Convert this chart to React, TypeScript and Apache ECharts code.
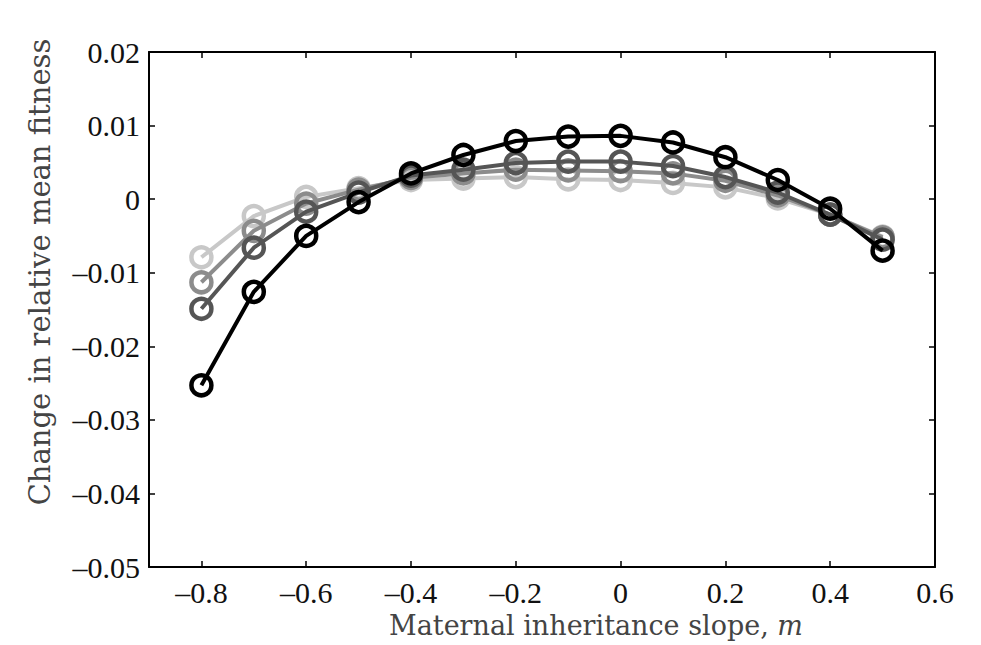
import React, { useEffect, useRef } from "react";
import * as echarts from "echarts";

const mValues = [-0.8, -0.7, -0.6, -0.5, -0.4, -0.3, -0.2, -0.1, 0, 0.1, 0.2, 0.3, 0.4, 0.5];
const lightSeries = [-0.0079, -0.0023, 0.0003, 0.0015, 0.0026, 0.0028, 0.003, 0.0027, 0.0026, 0.0022, 0.0016, 0.0001, -0.0021, -0.0051];
const midSeries = [-0.0113, -0.0043, -0.0006, 0.0013, 0.0029, 0.0035, 0.004, 0.0039, 0.0038, 0.0035, 0.0025, 0.0005, -0.0021, -0.0052];
const darkSeries = [-0.0149, -0.0066, -0.0017, 0.0009, 0.0032, 0.004, 0.0049, 0.0051, 0.0051, 0.0045, 0.003, 0.0009, -0.0021, -0.0055];
const blackSeries = [-0.0253, -0.0126, -0.005, -0.0004, 0.0035, 0.006, 0.0079, 0.0085, 0.0086, 0.0077, 0.0057, 0.0026, -0.0013, -0.007];
const seriesColors = ["#c8c8c8", "#8c8c8c", "#555555", "#000000"];
const xTicks = [-0.8, -0.6, -0.4, -0.2, 0, 0.2, 0.4, 0.6];
const yTicks = [-0.05, -0.04, -0.03, -0.02, -0.01, 0, 0.01, 0.02];
const xTitle = "Maternal inheritance slope, ";
const xTitleVar = "m";
const yTitle = "Change in relative mean fitness";

const fmt = (v: number) => {
  const r = Math.round(v * 1000) / 1000;
  if (r === 0) return "0";
  const s = Math.abs(r).toString();
  return r < 0 ? "\u2013" + s : s;
};

export default function App() {
  const ref = useRef<HTMLDivElement>(null);
  useEffect(() => {
    if (!ref.current) return;
    const chart = echarts.init(ref.current, null, { renderer: "svg" });
    const font = "Liberation Serif";
    const axisLine = { show: true, onZero: false, lineStyle: { color: "#000", width: 2 } };
    const tick = { show: true, inside: true, length: 6, lineStyle: { color: "#000", width: 1.5 } };
    const allData = [lightSeries, midSeries, darkSeries, blackSeries];
    chart.setOption({
      animation: false,
      backgroundColor: "#fff",
      grid: { left: 149, right: 46, top: 52, bottom: 78, containLabel: false },
      xAxis: [
        {
          type: "value",
          min: -0.9,
          max: 0.6,
          position: "bottom",
          axisLine,
          splitLine: { show: false },
          axisTick: { ...tick, customValues: xTicks },
          axisLabel: { customValues: xTicks, formatter: fmt, fontFamily: font, fontSize: 30, color: "#111", margin: 10 },
        },
        {
          type: "value",
          min: -0.9,
          max: 0.6,
          position: "top",
          axisLine,
          splitLine: { show: false },
          axisTick: { ...tick, customValues: xTicks },
          axisLabel: { show: false },
        },
      ],
      yAxis: [
        {
          type: "value",
          min: -0.05,
          max: 0.02,
          position: "left",
          axisLine,
          splitLine: { show: false },
          axisTick: { ...tick, customValues: yTicks },
          axisLabel: { customValues: yTicks, formatter: fmt, fontFamily: font, fontSize: 30, color: "#111", margin: 9 },
        },
        {
          type: "value",
          min: -0.05,
          max: 0.02,
          position: "right",
          axisLine,
          splitLine: { show: false },
          axisTick: { ...tick, customValues: yTicks },
          axisLabel: { show: false },
        },
      ],
      series: allData.map((d, i) => ({
        type: "line",
        xAxisIndex: 0,
        yAxisIndex: 0,
        data: d.map((v, j) => [mValues[j], v]),
        symbol: "circle",
        symbolSize: 20,
        lineStyle: { color: seriesColors[i], width: 4 },
        itemStyle: { color: "rgba(0,0,0,0)", borderColor: seriesColors[i], borderWidth: 4.5 },
        z: 2 + i,
      })),
      graphic: [
        {
          type: "text",
          x: 596,
          y: 625,
          style: {
            text: xTitle + "{i|" + xTitleVar + "}",
            fontFamily: "DejaVu Serif",
            fontSize: 27,
            fill: "#444",
            align: "center",
            verticalAlign: "middle",
            rich: { i: { fontFamily: "DejaVu Serif", fontStyle: "italic", fontSize: 27, fill: "#444" } },
          },
        },
        {
          type: "text",
          x: 40,
          y: 272,
          rotation: Math.PI / 2,
          style: {
            text: yTitle,
            fontFamily: "DejaVu Serif",
            fontSize: 29,
            fill: "#444",
            align: "center",
            verticalAlign: "middle",
          },
        },
      ],
    });
    return () => chart.dispose();
  }, []);
  return <div ref={ref} style={{ width: 981, height: 645, position: "absolute", left: 0, top: 0 }} />;
}
